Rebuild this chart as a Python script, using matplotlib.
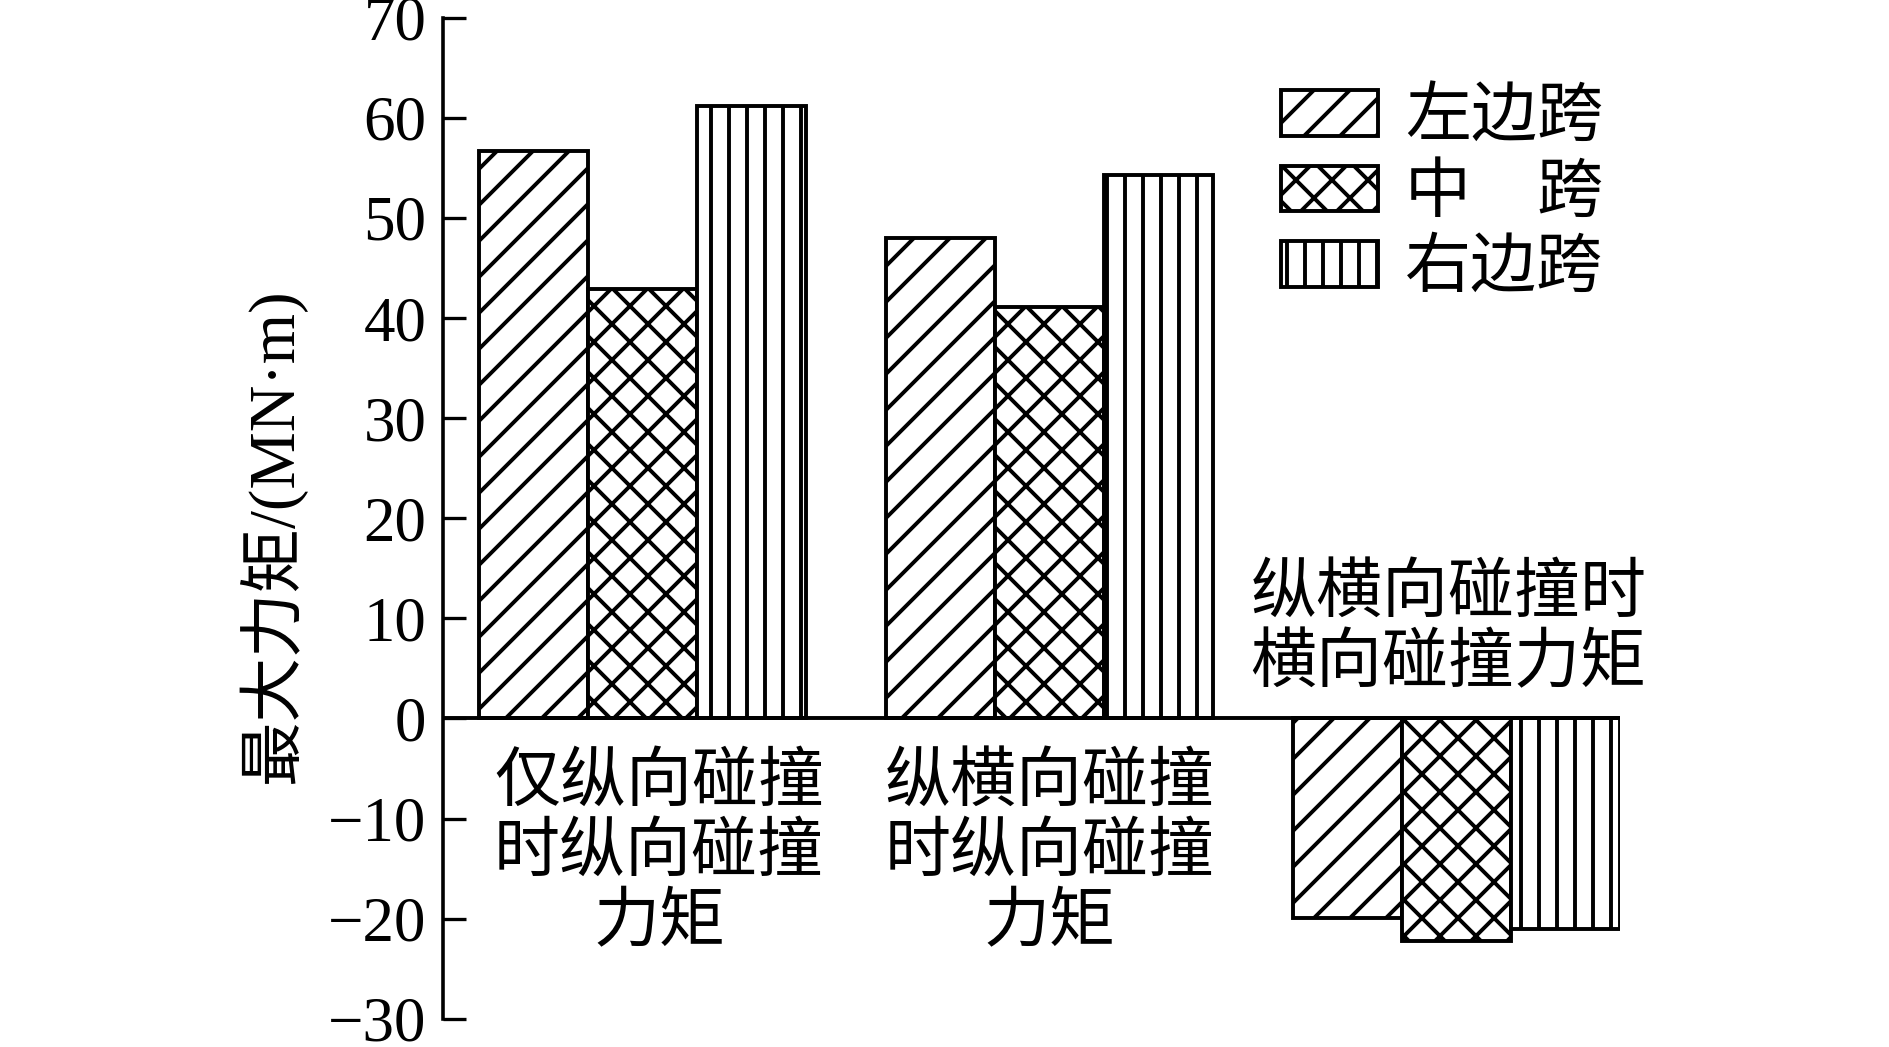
import numpy as np
import matplotlib.pyplot as plt

plt.rcParams['font.family'] = ['Liberation Serif', 'Noto Sans CJK SC']
plt.rcParams['hatch.linewidth'] = 2.6
plt.rcParams['axes.unicode_minus'] = True

groups = ["仅纵向碰撞\n时纵向碰撞\n力矩", "纵横向碰撞\n时纵向碰撞\n力矩", "纵横向碰撞时\n横向碰撞力矩"]
series = ["左边跨", "中\u3000跨", "右边跨"]
left_span = [56.7, 48.0, -19.9]
mid_span = [42.9, 41.1, -22.2]
right_span = [61.2, 54.3, -21.0]
values = [left_span, mid_span, right_span]
hatches = ["/", "x", "|"]
yticks = list(range(-30, 71, 10))

# per-group label anchors (data coords)
label_x = [0.04, 1.0, 1.98]
label_y = [-13.4, -13.4, 9.0]

DPI = 108
fig = plt.figure(figsize=(1889 / DPI, 1047 / DPI), dpi=DPI)
ax = fig.add_axes([0.2345, 0.027, 0.6232, 0.956])

x = np.arange(len(groups))
w = 0.268
for i, (name, vals, h) in enumerate(zip(series, values, hatches)):
    ax.bar(x + (i - 1) * w, vals, w, label=name, color="white",
           edgecolor="black", linewidth=2.6, hatch=h)

ax.axhline(0, color="black", linewidth=2.6, zorder=3)
ax.set_xlim(-0.491, x[-1] + 1.5 * w)
ax.set_ylim(-30, 70)
ax.set_yticks(yticks)
ax.tick_params(axis="y", direction="in", length=15, width=2.2, pad=11,
               labelsize=42)
ax.set_xticks([])
for s in ["top", "right", "bottom"]:
    ax.spines[s].set_visible(False)
ax.spines["left"].set_linewidth(2.4)

for gx, gy, txt in zip(label_x, label_y, groups):
    ax.text(gx, gy, txt, ha="center", va="center", fontsize=44,
            linespacing=1.05, family=["Noto Sans CJK SC"])

fig.text(0.144, 0.488, "最大力矩/(MN·m)", rotation=90, ha="center",
         va="center", fontsize=43)

ax.legend(loc="upper left", bbox_to_anchor=(0.678, 0.92),
          bbox_transform=fig.transFigure, frameon=False,
          prop={"family": ["Noto Sans CJK SC"], "size": 44},
          handlelength=1.48, handleheight=0.68, handletextpad=0.4,
          labelspacing=0.12, borderpad=0, borderaxespad=0)

fig.savefig("out.png", dpi=DPI)
